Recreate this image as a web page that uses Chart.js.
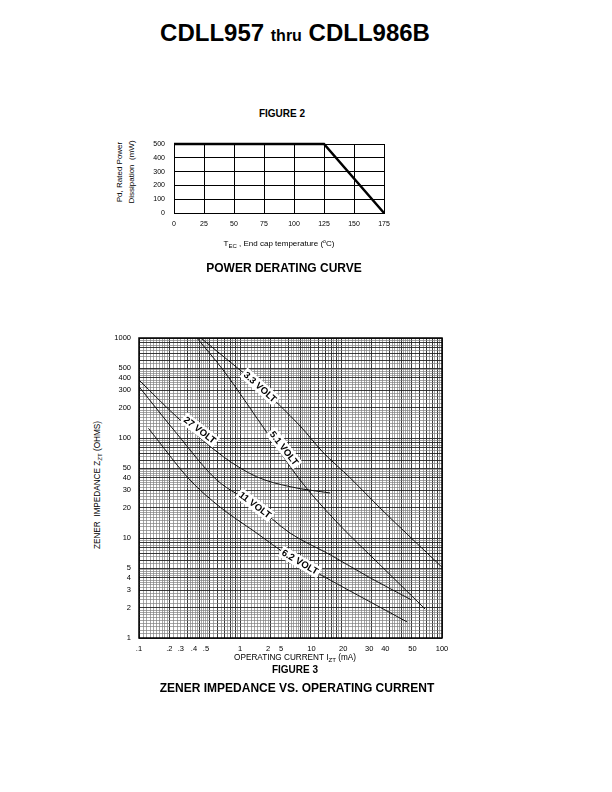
<!DOCTYPE html>
<html>
<head>
<meta charset="utf-8">
<script src="https://cdn.jsdelivr.net/npm/chart.js@4.4.0/dist/chart.umd.min.js"></script>
<style>
  body { margin: 0; background: #fff; font-family: "Liberation Sans", Arial, Helvetica, sans-serif; color: #000; }
  #page { position: relative; width: 612px; height: 792px; overflow: hidden; }
  .t { position: absolute; white-space: nowrap; transform: translate(-50%, -50%); line-height: 1; }
  .b { font-weight: bold; }
  .rot { transform: translate(-50%, -50%) rotate(-90deg); text-align: center; }
  sub { font-size: 75%; vertical-align: -0.35em; }
  sup { font-size: 65%; vertical-align: 0.5em; }
  canvas { position: absolute; }
</style>
</head>
<body>
<div id="page">
  <div class="t b" style="left:295px; top:33px; font-size:24px;">CDLL957 <span style="font-size:16px;">thru</span> CDLL986B</div>

  <div class="t b" style="left:282px; top:114px; font-size:10px;">FIGURE 2</div>
  <div class="t rot" style="left:126px; top:172px; font-size:8px; line-height:12px;">Pd, Rated Power<br>Dissipation&nbsp; (mW)</div>
  <canvas id="fig2" width="300" height="126" style="left:100px; top:130px;"></canvas>
  <div class="t" style="left:279px; top:244px; font-size:8px;">T<sub>EC</sub> , End cap temperature (<sup>o</sup>C)</div>
  <div class="t b" style="left:284px; top:268px; font-size:12px;">POWER DERATING CURVE</div>

  <div class="t rot" style="left:99px; top:485px; font-size:8.2px;">ZENER&nbsp; IMPEDANCE Z<sub>ZT</sub> (OHMS)</div>
  <canvas id="fig3" width="365" height="335" style="left:90px; top:325px;"></canvas>
  <div class="t" style="left:295px; top:659px; font-size:8.2px;">OPERATING CURRENT I<sub>ZT</sub> (mA)</div>
  <div class="t b" style="left:295px; top:670px; font-size:10px;">FIGURE 3</div>
  <div class="t b" style="left:297px; top:688px; font-size:12px;">ZENER IMPEDANCE VS. OPERATING CURRENT</div>
</div>

<script>
// Figure 2 - power derating
const derateTemp = [0, 125, 175];
const deratePower = [500, 500, 0];

// Figure 3 - zener impedance vs current (mA, ohms)
const current33 = [0.41, 0.8, 1.58, 3.93, 6.63, 12.3, 24.3, 100];
const zener33 = [1000, 575, 324, 132, 72, 40, 20, 5.1];

const current51 = [0.375, 0.68, 1.69, 3.93, 8.7, 24.3, 68];
const zener51 = [1000, 479, 129, 38, 15.1, 5.4, 1.95];

const current27 = [0.1, 0.236, 0.684, 1.46, 3.13, 7.8];
const zener27 = [380, 163, 65, 41, 32.6, 28.2];

const current11 = [0.1, 0.236, 0.59, 1.41, 3.13, 7.8, 19.4, 50];
const zener11 = [326, 111, 38, 21.4, 11.2, 6.8, 4.0, 2.4];

const current62 = [0.124, 0.32, 0.634, 1.41, 3.13, 7.8, 19.4, 45];
const zener62 = [125, 38, 20.4, 11.5, 6.5, 3.8, 2.3, 1.45];

// curve labels: text, current, impedance, angle
const curveLabels = [
    { text: '3.3 VOLT', x: 1.58, y: 324, angle: 42 },
    { text: '5.1 VOLT', x: 2.73, y: 79, angle: 52 },
    { text: '27 VOLT', x: 0.40, y: 120, angle: 38 },
    { text: '11 VOLT', x: 1.41, y: 21.4, angle: 37 },
    { text: '6.2 VOLT', x: 3.93, y: 5.75, angle: 30 }
];

// printed axis labels (the x labels are printed off the log positions)
const xTickPos = [0.1, 0.2, 0.26, 0.35, 0.46, 1, 1.9, 2.55, 5.1, 10.5, 19, 27.5, 51, 100];
const xTickLabels = ['.1', '.2', '.3', '.4', '.5', '1', '2', '5', '10', '20', '30', '40', '50', '100'];
const yTickValues = [1, 2, 3, 4, 5, 10, 20, 30, 40, 50, 100, 200, 300, 400, 500, 1000];

function pts(xs, ys) {
    return xs.map(function (x, i) { return { x: x, y: ys[i] }; });
}

// log-paper rulings
function logPaper(lo, hi) {
    var m = [];
    var k;
    for (k = 10; k < 20; k++) m.push(k / 10);
    for (k = 20; k < 50; k += 2) m.push(k / 10);
    for (k = 50; k < 100; k += 5) m.push(k / 10);
    var out = [];
    for (var d = lo; d < hi * 0.999; d *= 10) {
        m.forEach(function (v) { out.push(+(v * d).toPrecision(6)); });
    }
    out.push(hi);
    return out;
}
function isMajor(v) {
    var e = Math.pow(10, Math.floor(Math.log10(v) + 1e-9));
    var r = v / e;
    return Math.abs(r - Math.round(r)) < 1e-6;
}

Chart.defaults.font.family = '"Liberation Sans", Arial, sans-serif';
Chart.defaults.color = '#000';
Chart.defaults.animation = false;

new Chart(document.getElementById('fig2'), {
    type: 'line',
    data: {
        datasets: [{
            data: pts(derateTemp, deratePower),
            borderColor: '#000',
            borderWidth: 2.5,
            pointRadius: 0,
            tension: 0,
            clip: false
        }]
    },
    options: {
        responsive: false,
        layout: { padding: { top: 14, right: 16, left: 0, bottom: 0 } },
        plugins: { legend: { display: false }, tooltip: { enabled: false } },
        scales: {
            x: {
                type: 'linear', min: 0, max: 175,
                ticks: { stepSize: 25, font: { size: 7 }, padding: 7, maxRotation: 0 },
                grid: { color: '#000', lineWidth: 1, drawTicks: false },
                border: { color: '#000', width: 1 },
                afterFit: function (s) { s.height = 43; }
            },
            y: {
                min: 0, max: 500,
                ticks: { stepSize: 100, font: { size: 7 }, padding: 9 },
                grid: { color: '#000', lineWidth: 1, drawTicks: false },
                border: { color: '#000', width: 1 },
                afterFit: function (s) { s.width = 74; }
            }
        }
    }
});

const frame = {
    id: 'frame',
    afterDatasetsDraw: function (chart) {
        var a = chart.chartArea;
        var ctx = chart.ctx;
        ctx.save();
        ctx.strokeStyle = '#000';
        ctx.lineWidth = 1.5;
        ctx.strokeRect(a.left, a.top, a.right - a.left, a.bottom - a.top);
        ctx.restore();
    }
};

const curveTags = {
    id: 'curveTags',
    afterDatasetsDraw: function (chart) {
        var ctx = chart.ctx;
        var xs = chart.scales.x, ys = chart.scales.y;
        ctx.save();
        ctx.font = 'bold 9.5px "Liberation Sans", Arial, sans-serif';
        ctx.textAlign = 'center';
        ctx.textBaseline = 'middle';
        curveLabels.forEach(function (l) {
            var px = xs.getPixelForValue(l.x);
            var py = ys.getPixelForValue(l.y);
            var w = ctx.measureText(l.text).width + 4;
            ctx.save();
            ctx.translate(px, py);
            ctx.rotate(l.angle * Math.PI / 180);
            ctx.fillStyle = '#fff';
            ctx.fillRect(-w / 2, -6, w, 12);
            ctx.fillStyle = '#000';
            ctx.fillText(l.text, 0, 0.5);
            ctx.restore();
        });
        ctx.restore();
    }
};

function curve(xs, ys) {
    return {
        data: pts(xs, ys),
        borderColor: '#111',
        borderWidth: 1,
        pointRadius: 0,
        cubicInterpolationMode: 'monotone',
        xAxisID: 'x',
        yAxisID: 'y'
    };
}

const xGrid = logPaper(0.1, 100);
const yGrid = logPaper(1, 1000);

function gridColor(c) { return c.tick && isMajor(c.tick.value) ? '#222' : '#808080'; }
function gridWidth(c) { return c.tick && isMajor(c.tick.value) ? 0.9 : 0.7; }

new Chart(document.getElementById('fig3'), {
    type: 'line',
    data: {
        datasets: [
            curve(current33, zener33),
            curve(current51, zener51),
            curve(current27, zener27),
            curve(current11, zener11),
            curve(current62, zener62)
        ]
    },
    options: {
        responsive: false,
        layout: { padding: { top: 13, right: 13, left: 0, bottom: 0 } },
        plugins: { legend: { display: false }, tooltip: { enabled: false } },
        scales: {
            x: {
                type: 'logarithmic', min: 0.1, max: 100, position: 'bottom',
                afterBuildTicks: function (s) { s.ticks = xGrid.map(function (v) { return { value: v }; }); },
                ticks: { display: false },
                grid: { drawTicks: false, color: gridColor, lineWidth: gridWidth },
                border: { display: false },
                afterFit: function (s) { s.height = 0; }
            },
            xl: {
                type: 'logarithmic', min: 0.1, max: 100, position: 'bottom',
                afterBuildTicks: function (s) { s.ticks = xTickPos.map(function (v) { return { value: v }; }); },
                ticks: {
                    autoSkip: false, maxRotation: 0, font: { size: 7.5 }, padding: 6,
                    callback: function (v, i) { return xTickLabels[i]; }
                },
                grid: { display: false, drawTicks: false },
                border: { display: false },
                afterFit: function (s) { s.height = 22; }
            },
            y: {
                type: 'logarithmic', min: 1, max: 1000,
                afterBuildTicks: function (s) { s.ticks = yGrid.map(function (v) { return { value: v }; }); },
                ticks: {
                    autoSkip: false, font: { size: 7.5 }, padding: 8,
                    callback: function (v) {
                        return yTickValues.some(function (t) { return Math.abs(t - v) < 1e-6; }) ? String(v) : '';
                    }
                },
                grid: { drawTicks: false, color: gridColor, lineWidth: gridWidth },
                border: { display: false },
                afterFit: function (s) { s.width = 49; }
            }
        }
    },
    plugins: [frame, curveTags]
});
</script>
</body>
</html>
